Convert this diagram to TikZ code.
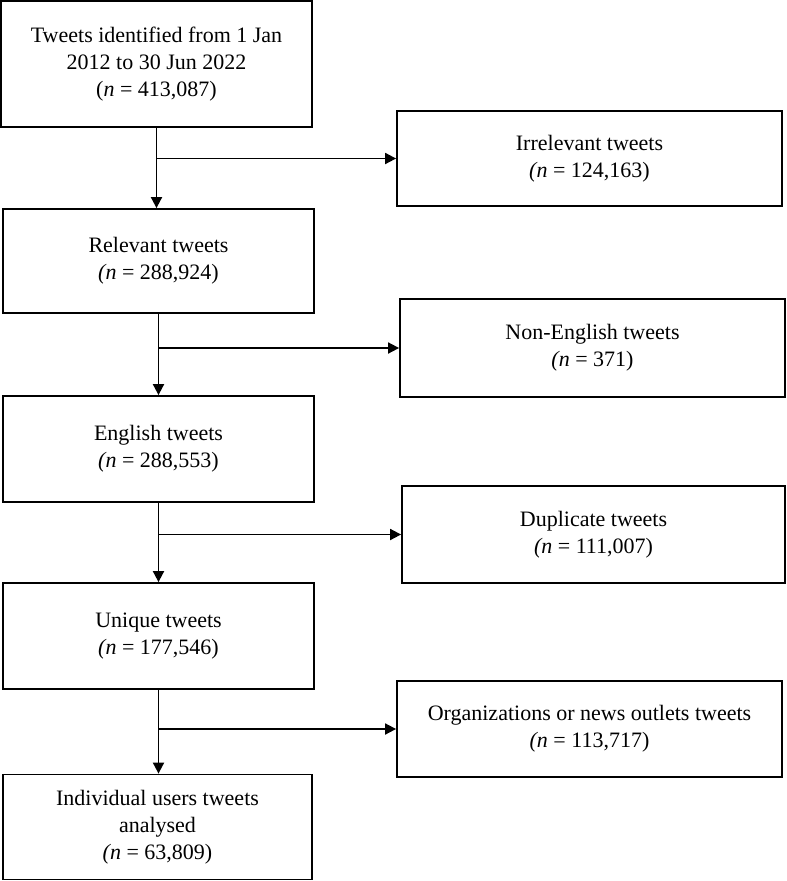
\documentclass[tikz,border=0pt]{standalone}
\usepackage{fontspec}
\setmainfont{Liberation Serif}
\usetikzlibrary{arrows.meta}
\begin{document}
\begin{tikzpicture}[x=1pt,y=-1pt,
  box/.style={draw=black,line width=1.8pt,rectangle,align=center,inner sep=0pt,
    font=\fontsize{22}{27}\selectfont},
  conn/.style={line width=1.8pt,-{Triangle[length=11pt,width=11pt]}}]
\useasboundingbox (0,0) rectangle (787,881);
\node[box,minimum width=311pt,minimum height=126pt] (a) at (156.5,64) {\raisebox{-4pt}{\begin{tabular}{@{}c@{}}Tweets identified from 1 Jan\\2012 to 30 Jun 2022\\(\textit{n} = 413,087)\end{tabular}}};
\node[box,minimum width=311pt,minimum height=104pt] (b) at (158.5,261) {Relevant tweets\\\textit{(n} = 288,924)};
\node[box,minimum width=311pt,minimum height=106pt] (c) at (158.5,449) {English tweets\\\textit{(n} = 288,553)};
\node[box,minimum width=311pt,minimum height=106pt] (d) at (158.5,636) {Unique tweets\\\textit{(n} = 177,546)};
\node[box,minimum width=309pt,minimum height=105pt] (e) at (157.5,827) {Individual users tweets\\analysed\\\textit{(n} = 63,809)};
\node[box,minimum width=385pt,minimum height=95pt] (r1) at (589.5,158.5) {Irrelevant tweets\\\textit{(n} = 124,163)};
\node[box,minimum width=385pt,minimum height=98pt] (r2) at (592.5,348) {Non-English tweets\\\textit{(n} = 371)};
\node[box,minimum width=383pt,minimum height=97pt] (r3) at (593.5,534.5) {Duplicate tweets\\\textit{(n} = 111,007)};
\node[box,minimum width=385pt,minimum height=96pt] (r4) at (589.5,729) {Organizations or news outlets tweets\\\textit{(n} = 113,717)};
\draw[conn] (a.south) -- (a.south |- b.north);
\draw[conn] (b.south) -- (b.south |- c.north);
\draw[conn] (c.south) -- (c.south |- d.north);
\draw[conn] (d.south) -- (d.south |- e.north);
\draw[conn] (a.south |- r1.west) -- (r1.west);
\draw[conn] (b.south |- r2.west) -- (r2.west);
\draw[conn] (c.south |- r3.west) -- (r3.west);
\draw[conn] (d.south |- r4.west) -- (r4.west);
\end{tikzpicture}
\end{document}
